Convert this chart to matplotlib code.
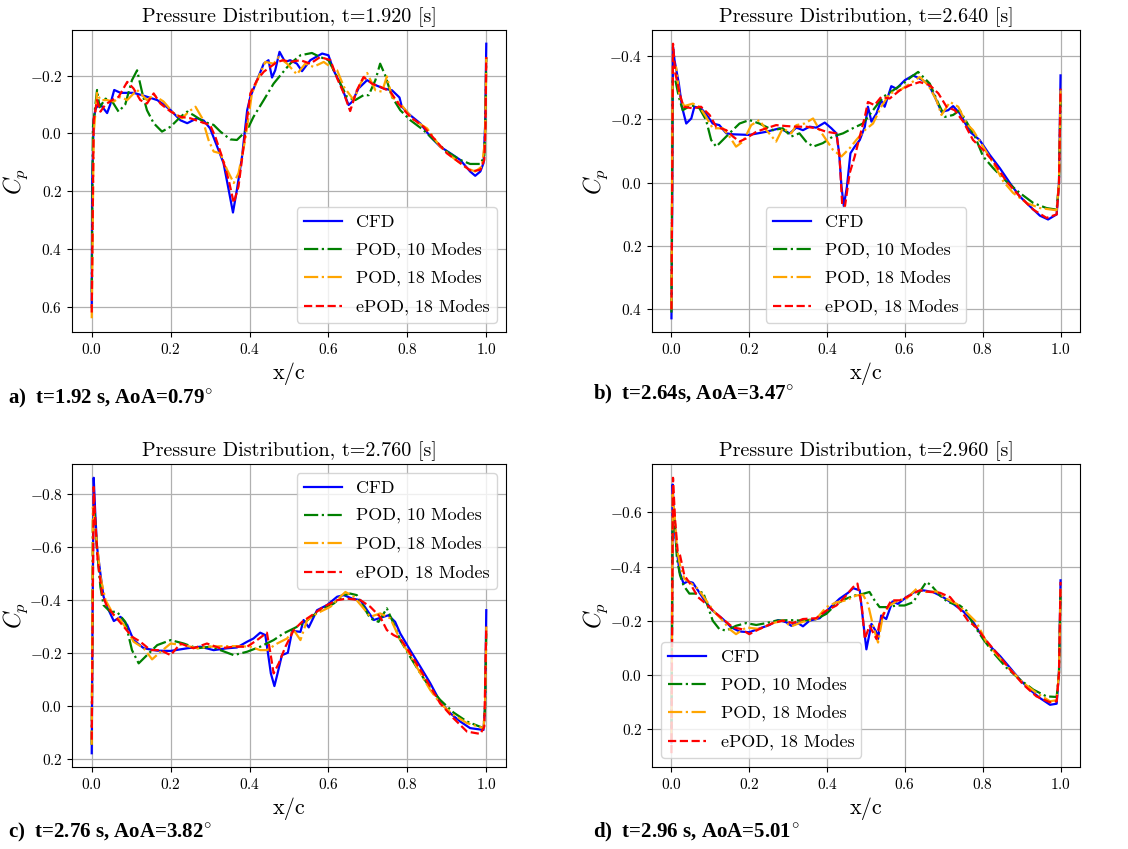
import matplotlib
matplotlib.use("Agg")
import matplotlib.pyplot as plt
from matplotlib.ticker import MultipleLocator, FuncFormatter

plt.rcParams["font.family"] = ["cmr10"]
plt.rcParams["mathtext.fontset"] = "cm"
plt.rcParams["axes.formatter.use_mathtext"] = True

# ---------------------------------------------------------------- data
SERIES_LABELS = ["CFD", "POD, 10 Modes", "POD, 18 Modes", "ePOD, 18 Modes"]
PANEL_TIMES = ["1.920", "2.640", "2.760", "2.960"]
PANEL_CAPTIONS = ["a)  t=1.92 s, AoA=0.79", "b)  t=2.64s, AoA=3.47",
                  "c)  t=2.76 s, AoA=3.82", "d)  t=2.96 s, AoA=5.01"]

# (x/c, Cp) samples, panel a
A_CFD = [(0.0, 0.60), (0.001, 0.18), (0.005, -0.046), (0.009, -0.08), (0.012, -0.09), (0.022, -0.10),
         (0.039, -0.07), (0.047, -0.10), (0.057, -0.15), (0.073, -0.14), (0.106, -0.14), (0.132, -0.13),
         (0.166, -0.115), (0.182, -0.10), (0.20, -0.08), (0.225, -0.045), (0.242, -0.035), (0.267, -0.052),
         (0.284, -0.044), (0.30, -0.017), (0.318, 0.046), (0.334, 0.103), (0.347, 0.195), (0.358, 0.274),
         (0.368, 0.195), (0.381, 0.08), (0.394, -0.08), (0.402, -0.126), (0.419, -0.184), (0.436, -0.241),
         (0.448, -0.253), (0.457, -0.193), (0.465, -0.218), (0.476, -0.282), (0.49, -0.247), (0.503, -0.253),
         (0.52, -0.241), (0.533, -0.215), (0.554, -0.253), (0.584, -0.276), (0.60, -0.27), (0.613, -0.218),
         (0.63, -0.172), (0.651, -0.098), (0.66, -0.109), (0.676, -0.155), (0.698, -0.184), (0.719, -0.167),
         (0.74, -0.155), (0.761, -0.149), (0.78, -0.124), (0.786, -0.092), (0.807, -0.063), (0.833, -0.034),
         (0.858, 0.011), (0.883, 0.046), (0.909, 0.069), (0.934, 0.092), (0.959, 0.132), (0.972, 0.147),
         (0.985, 0.132), (0.993, 0.103), (0.997, -0.023), (1.0, -0.31)]
A_POD10 = [(0.0, 0.55), (0.003, -0.02), (0.0135, -0.15), (0.02, -0.09), (0.035, -0.12), (0.052, -0.11),
           (0.068, -0.075), (0.085, -0.10), (0.102, -0.184), (0.115, -0.218), (0.128, -0.14), (0.14, -0.08),
           (0.157, -0.035), (0.178, -0.006), (0.2, -0.023), (0.225, -0.057), (0.242, -0.075), (0.258, -0.063),
           (0.284, -0.04), (0.309, -0.029), (0.326, -0.006), (0.351, 0.021), (0.368, 0.023), (0.385, 0.0),
           (0.398, -0.023), (0.41, -0.057), (0.436, -0.115), (0.461, -0.172), (0.482, -0.207), (0.503, -0.241),
           (0.529, -0.27), (0.558, -0.278), (0.579, -0.264), (0.60, -0.253), (0.622, -0.195), (0.647, -0.126),
           (0.668, -0.115), (0.689, -0.132), (0.702, -0.132), (0.719, -0.184), (0.731, -0.241), (0.744, -0.2),
           (0.761, -0.126), (0.782, -0.08), (0.807, -0.046), (0.841, -0.011), (0.867, 0.023), (0.9, 0.063),
           (0.934, 0.092), (0.959, 0.106), (0.985, 0.106), (0.995, 0.08), (0.998, -0.057), (1.0, -0.26)]
A_POD18 = [(0.0, 0.64), (0.005, 0.0), (0.0135, -0.14), (0.022, -0.115), (0.039, -0.115), (0.056, -0.11),
           (0.073, -0.126), (0.09, -0.115), (0.115, -0.15), (0.14, -0.115), (0.157, -0.132), (0.182, -0.11),
           (0.208, -0.069), (0.229, -0.052), (0.246, -0.075), (0.263, -0.092), (0.28, -0.052), (0.296, 0.023),
           (0.309, 0.063), (0.326, 0.069), (0.343, 0.126), (0.36, 0.172), (0.372, 0.138), (0.389, 0.023),
           (0.406, -0.138), (0.423, -0.195), (0.44, -0.247), (0.461, -0.241), (0.474, -0.264), (0.495, -0.241),
           (0.52, -0.204), (0.541, -0.241), (0.562, -0.23), (0.588, -0.247), (0.605, -0.23), (0.622, -0.218),
           (0.639, -0.161), (0.664, -0.115), (0.681, -0.172), (0.698, -0.209), (0.719, -0.149), (0.736, -0.144),
           (0.748, -0.197), (0.761, -0.126), (0.782, -0.103), (0.816, -0.046), (0.85, -0.017), (0.883, 0.046),
           (0.917, 0.086), (0.951, 0.121), (0.972, 0.132), (0.989, 0.115), (0.997, 0.023), (1.0, -0.264)]
A_EPOD18 = [(0.0, 0.62), (0.005, -0.046), (0.0135, -0.115), (0.022, -0.075), (0.035, -0.10), (0.052, -0.115),
            (0.068, -0.126), (0.09, -0.178), (0.106, -0.155), (0.123, -0.115), (0.14, -0.103), (0.157, -0.138),
            (0.174, -0.103), (0.2, -0.075), (0.225, -0.057), (0.25, -0.052), (0.275, -0.04), (0.30, -0.029),
            (0.313, 0.011), (0.33, 0.08), (0.347, 0.161), (0.36, 0.241), (0.372, 0.184), (0.385, 0.046),
            (0.402, -0.138), (0.419, -0.184), (0.436, -0.213), (0.453, -0.23), (0.47, -0.247), (0.486, -0.253),
            (0.503, -0.247), (0.529, -0.253), (0.554, -0.241), (0.579, -0.264), (0.605, -0.253), (0.622, -0.19),
            (0.639, -0.138), (0.655, -0.077), (0.672, -0.149), (0.689, -0.195), (0.71, -0.172), (0.731, -0.161),
            (0.757, -0.144), (0.777, -0.103), (0.807, -0.057), (0.841, -0.023), (0.867, 0.017), (0.9, 0.069),
            (0.934, 0.103), (0.963, 0.132), (0.985, 0.126), (0.995, 0.092), (0.998, -0.023), (1.0, -0.264)]

# panel b
B_CFD = [(0.0, 0.428), (0.002, 0.05), (0.004, -0.428), (0.008, -0.386), (0.019, -0.313), (0.027, -0.24),
         (0.038, -0.187), (0.051, -0.203), (0.059, -0.24), (0.076, -0.235), (0.089, -0.217), (0.106, -0.187),
         (0.123, -0.182), (0.141, -0.156), (0.158, -0.153), (0.2, -0.151), (0.244, -0.161), (0.278, -0.172),
         (0.304, -0.156), (0.321, -0.174), (0.338, -0.166), (0.355, -0.177), (0.372, -0.174), (0.394, -0.19),
         (0.411, -0.172), (0.424, -0.156), (0.431, -0.093), (0.437, 0.012), (0.443, 0.074), (0.451, 0.012),
         (0.46, -0.093), (0.471, -0.114), (0.484, -0.135), (0.497, -0.177), (0.505, -0.24), (0.514, -0.193),
         (0.527, -0.219), (0.539, -0.26), (0.548, -0.24), (0.565, -0.305), (0.578, -0.297), (0.6, -0.324),
         (0.621, -0.339), (0.638, -0.329), (0.66, -0.313), (0.677, -0.271), (0.694, -0.224), (0.711, -0.229),
         (0.724, -0.242), (0.741, -0.219), (0.767, -0.161), (0.792, -0.135), (0.818, -0.088), (0.844, -0.046),
         (0.87, 0.001), (0.895, 0.043), (0.921, 0.074), (0.947, 0.104), (0.968, 0.116), (0.99, 0.1),
         (0.996, 0.0), (1.0, -0.339)]
B_POD10 = [(0.0, 0.41), (0.003, -0.324), (0.01, -0.324), (0.019, -0.271), (0.029, -0.229), (0.051, -0.245),
           (0.072, -0.235), (0.089, -0.198), (0.102, -0.135), (0.115, -0.114), (0.132, -0.135), (0.149, -0.156),
           (0.175, -0.187), (0.2, -0.198), (0.226, -0.187), (0.261, -0.166), (0.286, -0.172), (0.308, -0.146),
           (0.329, -0.156), (0.346, -0.13), (0.364, -0.114), (0.389, -0.125), (0.415, -0.146), (0.441, -0.156),
           (0.466, -0.172), (0.492, -0.187), (0.518, -0.229), (0.544, -0.271), (0.57, -0.292), (0.595, -0.313),
           (0.616, -0.334), (0.634, -0.35), (0.647, -0.334), (0.664, -0.313), (0.686, -0.25), (0.703, -0.208),
           (0.724, -0.214), (0.741, -0.229), (0.758, -0.193), (0.78, -0.146), (0.801, -0.083), (0.827, -0.046),
           (0.861, -0.004), (0.895, 0.032), (0.93, 0.064), (0.964, 0.08), (0.99, 0.085), (0.996, 0.0), (1.0, -0.26)]
B_POD18 = [(0.0, 0.40), (0.003, -0.365), (0.012, -0.365), (0.021, -0.271), (0.033, -0.242), (0.055, -0.25),
           (0.072, -0.24), (0.089, -0.208), (0.106, -0.172), (0.132, -0.172), (0.149, -0.146), (0.166, -0.114),
           (0.184, -0.13), (0.205, -0.182), (0.226, -0.198), (0.244, -0.166), (0.269, -0.13), (0.286, -0.172),
           (0.308, -0.156), (0.321, -0.182), (0.342, -0.187), (0.364, -0.203), (0.381, -0.166), (0.398, -0.135),
           (0.415, -0.104), (0.437, -0.083), (0.458, -0.109), (0.475, -0.135), (0.497, -0.166), (0.518, -0.187),
           (0.539, -0.24), (0.561, -0.282), (0.587, -0.292), (0.613, -0.313), (0.638, -0.334), (0.66, -0.308),
           (0.681, -0.261), (0.694, -0.214), (0.716, -0.255), (0.737, -0.24), (0.758, -0.187), (0.775, -0.166),
           (0.801, -0.114), (0.827, -0.062), (0.853, -0.004), (0.878, 0.032), (0.913, 0.064), (0.947, 0.08),
           (0.99, 0.087), (0.996, 0.0), (1.0, -0.292)]
B_EPOD18 = [(0.0, 0.40), (0.004, -0.439), (0.01, -0.345), (0.021, -0.282), (0.031, -0.24), (0.055, -0.235),
            (0.076, -0.24), (0.098, -0.214), (0.115, -0.177), (0.141, -0.166), (0.158, -0.146), (0.175, -0.13),
            (0.192, -0.14), (0.218, -0.161), (0.244, -0.172), (0.269, -0.182), (0.295, -0.179), (0.321, -0.177),
            (0.346, -0.177), (0.372, -0.172), (0.398, -0.161), (0.424, -0.156), (0.432, -0.083), (0.439, 0.074),
            (0.446, 0.074), (0.458, -0.03), (0.471, -0.083), (0.484, -0.146), (0.497, -0.208), (0.505, -0.255),
            (0.522, -0.245), (0.539, -0.271), (0.561, -0.266), (0.587, -0.292), (0.613, -0.308), (0.638, -0.318),
            (0.664, -0.308), (0.686, -0.282), (0.707, -0.24), (0.728, -0.229), (0.75, -0.193), (0.775, -0.135),
            (0.801, -0.104), (0.827, -0.067), (0.861, -0.004), (0.895, 0.043), (0.93, 0.085), (0.964, 0.111),
            (0.99, 0.1), (0.996, 0.0), (1.0, -0.297)]

# panel c
C_CFD = [(0.0, 0.179), (0.002, -0.325), (0.005, -0.863), (0.009, -0.727), (0.0135, -0.601), (0.022, -0.5),
         (0.03, -0.413), (0.043, -0.362), (0.056, -0.321), (0.073, -0.337), (0.09, -0.306), (0.106, -0.249),
         (0.132, -0.218), (0.166, -0.209), (0.2, -0.208), (0.242, -0.218), (0.275, -0.224), (0.309, -0.211),
         (0.343, -0.218), (0.368, -0.221), (0.394, -0.243), (0.41, -0.255), (0.427, -0.277), (0.44, -0.268),
         (0.448, -0.186), (0.454, -0.123), (0.463, -0.075), (0.471, -0.123), (0.482, -0.192), (0.497, -0.201),
         (0.508, -0.284), (0.529, -0.28), (0.537, -0.325), (0.55, -0.297), (0.571, -0.362), (0.596, -0.381),
         (0.622, -0.413), (0.639, -0.419), (0.66, -0.406), (0.681, -0.40), (0.698, -0.362), (0.715, -0.325),
         (0.731, -0.333), (0.752, -0.343), (0.769, -0.318), (0.782, -0.274), (0.807, -0.211), (0.833, -0.148),
         (0.858, -0.086), (0.883, -0.016), (0.909, 0.028), (0.934, 0.059), (0.959, 0.084), (0.993, 0.091),
         (0.997, 0.003), (1.0, -0.362)]
C_POD10 = [(0.0, 0.147), (0.003, -0.70), (0.007, -0.74), (0.0135, -0.589), (0.022, -0.45), (0.03, -0.381),
           (0.047, -0.356), (0.064, -0.356), (0.085, -0.318), (0.102, -0.211), (0.119, -0.161), (0.14, -0.192),
           (0.166, -0.23), (0.2, -0.249), (0.233, -0.236), (0.267, -0.218), (0.30, -0.224), (0.326, -0.211),
           (0.36, -0.192), (0.394, -0.205), (0.427, -0.224), (0.461, -0.249), (0.486, -0.274), (0.512, -0.293),
           (0.537, -0.312), (0.562, -0.343), (0.588, -0.369), (0.613, -0.387), (0.639, -0.419), (0.655, -0.425),
           (0.672, -0.419), (0.689, -0.375), (0.706, -0.331), (0.727, -0.318), (0.748, -0.369), (0.765, -0.312),
           (0.782, -0.249), (0.807, -0.186), (0.833, -0.123), (0.858, -0.067), (0.883, -0.023), (0.917, 0.025),
           (0.951, 0.059), (0.993, 0.084), (0.997, 0.003), (1.0, -0.274)]
C_POD18 = [(0.0, 0.147), (0.003, -0.752), (0.009, -0.677), (0.015, -0.589), (0.022, -0.488), (0.035, -0.40),
           (0.056, -0.343), (0.073, -0.325), (0.09, -0.287), (0.106, -0.243), (0.132, -0.218), (0.153, -0.176),
           (0.17, -0.199), (0.2, -0.236), (0.233, -0.23), (0.267, -0.218), (0.30, -0.224), (0.334, -0.226),
           (0.368, -0.226), (0.402, -0.224), (0.427, -0.211), (0.444, -0.211), (0.47, -0.236), (0.495, -0.255),
           (0.512, -0.287), (0.529, -0.249), (0.546, -0.325), (0.571, -0.35), (0.605, -0.375), (0.63, -0.413),
           (0.643, -0.431), (0.664, -0.413), (0.689, -0.369), (0.706, -0.337), (0.731, -0.35), (0.757, -0.331),
           (0.782, -0.249), (0.807, -0.192), (0.833, -0.123), (0.858, -0.06), (0.883, -0.01), (0.917, 0.034),
           (0.951, 0.065), (0.993, 0.084), (0.997, 0.003), (1.0, -0.30)]
C_EPOD18 = [(0.0, 0.128), (0.005, -0.828), (0.009, -0.702), (0.015, -0.551), (0.026, -0.425), (0.039, -0.375),
            (0.06, -0.337), (0.081, -0.30), (0.102, -0.262), (0.123, -0.243), (0.149, -0.211), (0.174, -0.211),
            (0.2, -0.192), (0.225, -0.236), (0.258, -0.218), (0.292, -0.236), (0.326, -0.218), (0.36, -0.224),
            (0.394, -0.224), (0.419, -0.249), (0.444, -0.277), (0.453, -0.199), (0.461, -0.123), (0.474, -0.161),
            (0.491, -0.224), (0.512, -0.287), (0.533, -0.318), (0.558, -0.343), (0.588, -0.375), (0.622, -0.40),
            (0.647, -0.406), (0.681, -0.40), (0.706, -0.375), (0.731, -0.337), (0.748, -0.287), (0.765, -0.268),
            (0.782, -0.255), (0.807, -0.199), (0.833, -0.136), (0.858, -0.073), (0.883, -0.01), (0.917, 0.047),
            (0.951, 0.097), (0.985, 0.106), (0.995, 0.078), (1.0, -0.30)]

# panel d
D_CFD = [(0.0, 0.25), (0.003, -0.703), (0.008, -0.542), (0.014, -0.455), (0.021, -0.38), (0.031, -0.337),
         (0.042, -0.345), (0.055, -0.34), (0.068, -0.312), (0.085, -0.275), (0.106, -0.237), (0.132, -0.206),
         (0.154, -0.175), (0.175, -0.16), (0.2, -0.157), (0.226, -0.171), (0.252, -0.184), (0.274, -0.202),
         (0.295, -0.194), (0.308, -0.181), (0.325, -0.191), (0.338, -0.179), (0.355, -0.20), (0.381, -0.209),
         (0.407, -0.247), (0.432, -0.281), (0.454, -0.303), (0.467, -0.32), (0.484, -0.312), (0.492, -0.206),
         (0.501, -0.094), (0.514, -0.188), (0.527, -0.157), (0.531, -0.132), (0.539, -0.219), (0.552, -0.206),
         (0.568, -0.271), (0.582, -0.262), (0.604, -0.287), (0.625, -0.306), (0.647, -0.312), (0.672, -0.306),
         (0.698, -0.287), (0.724, -0.262), (0.75, -0.234), (0.775, -0.196), (0.792, -0.157), (0.818, -0.107),
         (0.844, -0.07), (0.87, -0.026), (0.895, 0.017), (0.921, 0.055), (0.947, 0.086), (0.973, 0.111),
         (0.99, 0.107), (0.996, -0.007), (1.0, -0.349)]
D_POD10 = [(0.0, 0.20), (0.003, -0.554), (0.008, -0.579), (0.014, -0.43), (0.022, -0.368), (0.031, -0.33),
           (0.046, -0.30), (0.063, -0.30), (0.081, -0.306), (0.093, -0.256), (0.106, -0.20), (0.123, -0.169),
           (0.141, -0.163), (0.166, -0.181), (0.192, -0.191), (0.218, -0.184), (0.244, -0.191), (0.269, -0.20),
           (0.304, -0.202), (0.338, -0.20), (0.372, -0.206), (0.398, -0.225), (0.424, -0.262), (0.449, -0.281),
           (0.471, -0.293), (0.492, -0.299), (0.509, -0.306), (0.522, -0.275), (0.535, -0.25), (0.557, -0.25),
           (0.578, -0.256), (0.599, -0.256), (0.621, -0.268), (0.638, -0.306), (0.655, -0.343), (0.668, -0.33),
           (0.69, -0.293), (0.711, -0.268), (0.741, -0.256), (0.758, -0.237), (0.775, -0.188), (0.801, -0.132),
           (0.827, -0.082), (0.861, -0.026), (0.895, 0.017), (0.93, 0.055), (0.964, 0.08), (0.99, 0.082),
           (0.996, -0.007), (1.0, -0.306)]
D_POD18 = [(0.0, 0.25), (0.003, -0.666), (0.008, -0.591), (0.014, -0.467), (0.022, -0.405), (0.033, -0.355),
           (0.051, -0.337), (0.068, -0.318), (0.089, -0.275), (0.111, -0.231), (0.132, -0.20), (0.149, -0.169),
           (0.166, -0.15), (0.192, -0.175), (0.226, -0.169), (0.261, -0.191), (0.286, -0.20), (0.308, -0.179),
           (0.338, -0.196), (0.372, -0.206), (0.398, -0.25), (0.424, -0.268), (0.449, -0.275), (0.475, -0.293),
           (0.492, -0.296), (0.505, -0.262), (0.518, -0.181), (0.531, -0.119), (0.544, -0.225), (0.561, -0.256),
           (0.582, -0.275), (0.604, -0.281), (0.63, -0.318), (0.655, -0.306), (0.681, -0.308), (0.707, -0.281),
           (0.733, -0.262), (0.758, -0.231), (0.784, -0.194), (0.81, -0.119), (0.835, -0.076), (0.87, -0.02),
           (0.904, 0.03), (0.938, 0.067), (0.973, 0.098), (0.99, 0.094), (0.996, -0.007), (1.0, -0.318)]
D_EPOD18 = [(0.0, 0.29), (0.004, -0.728), (0.009, -0.579), (0.016, -0.455), (0.022, -0.442), (0.033, -0.368),
            (0.051, -0.33), (0.068, -0.287), (0.089, -0.262), (0.111, -0.231), (0.132, -0.206), (0.158, -0.175),
            (0.179, -0.169), (0.2, -0.15), (0.226, -0.169), (0.261, -0.191), (0.286, -0.20), (0.312, -0.191),
            (0.338, -0.206), (0.372, -0.209), (0.398, -0.237), (0.424, -0.256), (0.449, -0.293), (0.467, -0.324),
            (0.478, -0.337), (0.489, -0.256), (0.497, -0.132), (0.509, -0.181), (0.527, -0.132), (0.535, -0.194),
            (0.548, -0.231), (0.565, -0.275), (0.587, -0.275), (0.613, -0.293), (0.638, -0.312), (0.664, -0.306),
            (0.69, -0.303), (0.716, -0.287), (0.741, -0.243), (0.762, -0.20), (0.784, -0.175), (0.81, -0.125),
            (0.835, -0.082), (0.87, -0.02), (0.904, 0.036), (0.938, 0.08), (0.973, 0.102), (0.99, 0.098),
            (0.996, -0.007), (1.0, -0.343)]

# ---------------------------------------------------------------- styling
STYLES = [dict(color="blue", ls="-"),
          dict(color="green", ls="-."),
          dict(color="orange", ls="-."),
          dict(color="red", ls="--")]

W, H = 1128, 849
fig = plt.figure(figsize=(W / 100, H / 100), dpi=100)


def px_axes(left, top, right, bottom):
    return fig.add_axes([left / W, 1 - bottom / H, (right - left) / W, (bottom - top) / H])


panels = [
    (px_axes(72, 30, 506, 332), [A_CFD, A_POD10, A_POD18, A_EPOD18], "lower right"),
    (px_axes(652, 30, 1080, 332), [B_CFD, B_POD10, B_POD18, B_EPOD18], "lower center"),
    (px_axes(72, 464, 506, 767), [C_CFD, C_POD10, C_POD18, C_EPOD18], "upper right"),
    (px_axes(652, 464, 1080, 767), [D_CFD, D_POD10, D_POD18, D_EPOD18], "lower left"),
]

tick_fmt = FuncFormatter(lambda v, _: "$%.1f$" % v)

for (ax, series, loc), t in zip(panels, PANEL_TIMES):
    for pts, lab, st in zip(series, SERIES_LABELS, STYLES):
        xs = [p[0] for p in pts]
        ys = [p[1] for p in pts]
        ax.plot(xs, ys, label=lab, lw=1.6, **st)
    ax.invert_yaxis()
    ax.grid(True, color="#b0b0b0", lw=0.9)
    ax.xaxis.set_major_locator(MultipleLocator(0.2))
    ax.yaxis.set_major_locator(MultipleLocator(0.2))
    ax.xaxis.set_major_formatter(tick_fmt)
    ax.yaxis.set_major_formatter(tick_fmt)
    ax.tick_params(labelsize=11)
    ax.set_title("Pressure Distribution, t=%s [s]" % t, fontsize=14.5)
    ax.set_xlabel("x/c", fontsize=16)
    ax.set_ylabel("$C_p$", fontsize=17)
    ax.yaxis.set_label_coords(-42 / 430, 0.5)
    ax.legend(loc=loc, fontsize=13, labelspacing=0.68, handlelength=2.1)

caption_pos = [(8, 398), (593, 394), (8, 832), (593, 832)]
for (cx, cy), cap in zip(caption_pos, PANEL_CAPTIONS):
    fig.text(cx / W, 1 - cy / H, cap + r"$^{\circ}$", fontsize=15, fontweight="bold",
             family="Liberation Serif", va="center", ha="left")

fig.savefig("out.png", dpi=100)
